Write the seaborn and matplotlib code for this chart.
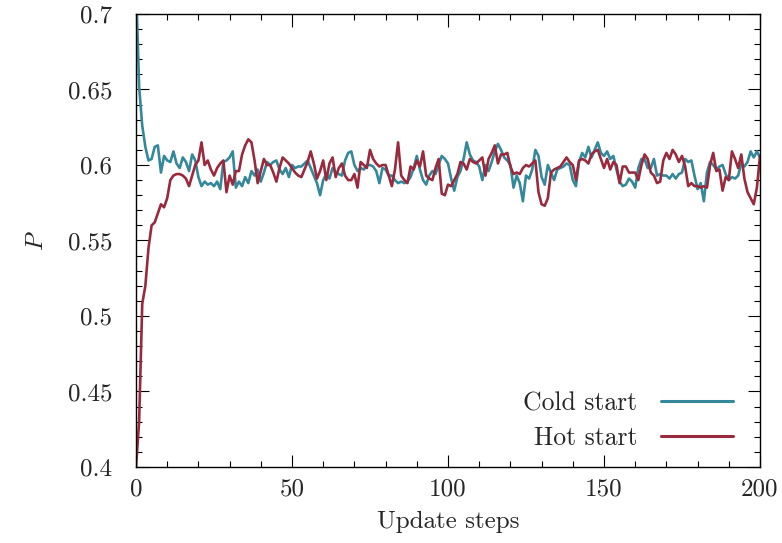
import numpy as np
import pandas as pd
import matplotlib
matplotlib.use("Agg")
import matplotlib.pyplot as plt
import seaborn as sns
from matplotlib.ticker import MultipleLocator

# ---------------- data ----------------
steps = list(range(0, 201))

cold_start = [
    0.720, 0.652, 0.626, 0.612, 0.603, 0.604, 0.612, 0.613, 0.595, 0.606,
    0.603, 0.602, 0.609, 0.601, 0.598, 0.605, 0.602, 0.596, 0.607, 0.603,
    0.592, 0.586, 0.589, 0.587, 0.588, 0.586, 0.589, 0.584, 0.602, 0.603,
    0.605, 0.609, 0.585, 0.589, 0.586, 0.592, 0.588, 0.596, 0.593, 0.597,
    0.589, 0.595, 0.602, 0.600, 0.602, 0.603, 0.597, 0.594, 0.598, 0.592,
    0.600, 0.598, 0.599, 0.599, 0.601, 0.603, 0.598, 0.593, 0.588, 0.580,
    0.590, 0.594, 0.591, 0.598, 0.595, 0.594, 0.593, 0.603, 0.608, 0.609,
    0.600, 0.596, 0.598, 0.597, 0.600, 0.600, 0.599, 0.596, 0.588, 0.598,
    0.597, 0.593, 0.593, 0.590, 0.588, 0.589, 0.588, 0.589, 0.592, 0.598,
    0.606, 0.597, 0.590, 0.587, 0.593, 0.596, 0.594, 0.600, 0.606, 0.604,
    0.601, 0.591, 0.583, 0.592, 0.596, 0.604, 0.615, 0.607, 0.603, 0.602,
    0.599, 0.590, 0.600, 0.596, 0.602, 0.609, 0.614, 0.610, 0.605, 0.603,
    0.600, 0.585, 0.593, 0.588, 0.576, 0.593, 0.591, 0.597, 0.610, 0.606,
    0.592, 0.587, 0.600, 0.595, 0.590, 0.597, 0.598, 0.599, 0.601, 0.600,
    0.590, 0.586, 0.602, 0.608, 0.605, 0.612, 0.605, 0.610, 0.615, 0.608,
    0.606, 0.609, 0.604, 0.606, 0.597, 0.589, 0.586, 0.587, 0.591, 0.589,
    0.585, 0.598, 0.604, 0.604, 0.598, 0.598, 0.604, 0.593, 0.594, 0.593,
    0.593, 0.591, 0.594, 0.591, 0.594, 0.595, 0.604, 0.602, 0.603, 0.593,
    0.584, 0.588, 0.576, 0.595, 0.602, 0.600, 0.597, 0.599, 0.600, 0.594,
    0.590, 0.592, 0.591, 0.593, 0.601, 0.599, 0.602, 0.609, 0.605, 0.609,
    0.605,
]

hot_start = [
    0.400, 0.430, 0.508, 0.520, 0.545, 0.560, 0.562, 0.568, 0.574, 0.572,
    0.578, 0.590, 0.593, 0.594, 0.594, 0.593, 0.591, 0.586, 0.593, 0.600,
    0.603, 0.615, 0.600, 0.603, 0.597, 0.593, 0.598, 0.601, 0.603, 0.582,
    0.593, 0.587, 0.596, 0.596, 0.607, 0.613, 0.617, 0.615, 0.603, 0.588,
    0.596, 0.604, 0.600, 0.600, 0.595, 0.589, 0.598, 0.605, 0.603, 0.601,
    0.598, 0.595, 0.593, 0.592, 0.597, 0.602, 0.609, 0.601, 0.591, 0.596,
    0.603, 0.590, 0.601, 0.605, 0.592, 0.598, 0.601, 0.593, 0.590, 0.590,
    0.594, 0.585, 0.602, 0.600, 0.598, 0.610, 0.604, 0.601, 0.599, 0.600,
    0.600, 0.593, 0.586, 0.597, 0.615, 0.593, 0.590, 0.588, 0.599, 0.597,
    0.603, 0.599, 0.609, 0.593, 0.591, 0.590, 0.598, 0.604, 0.581, 0.580,
    0.587, 0.586, 0.590, 0.594, 0.602, 0.601, 0.597, 0.604, 0.602, 0.601,
    0.603, 0.605, 0.593, 0.604, 0.608, 0.613, 0.601, 0.607, 0.607, 0.608,
    0.599, 0.594, 0.595, 0.594, 0.598, 0.600, 0.599, 0.601, 0.603, 0.582,
    0.574, 0.573, 0.578, 0.595, 0.597, 0.598, 0.599, 0.602, 0.605, 0.602,
    0.600, 0.590, 0.603, 0.604, 0.603, 0.601, 0.607, 0.609, 0.610, 0.604,
    0.598, 0.604, 0.597, 0.602, 0.600, 0.588, 0.599, 0.599, 0.595, 0.595,
    0.595, 0.590, 0.600, 0.607, 0.604, 0.595, 0.593, 0.588, 0.589, 0.603,
    0.608, 0.604, 0.610, 0.607, 0.602, 0.606, 0.599, 0.586, 0.588, 0.586,
    0.586, 0.585, 0.586, 0.585, 0.600, 0.608, 0.596, 0.597, 0.583, 0.592,
    0.590, 0.609, 0.604, 0.598, 0.607, 0.591, 0.582, 0.578, 0.574, 0.585,
    0.606,
]

series_names = ["Cold start", "Hot start"]
series_colors = ["#34889a", "#992a3e"]

# ---------------- style ----------------
sns.set_theme(style="ticks")
plt.rcParams["font.family"] = ["cmr10", "DejaVu Serif"]
plt.rcParams["mathtext.fontset"] = "cm"
plt.rcParams["axes.formatter.use_mathtext"] = True
plt.rcParams["axes.unicode_minus"] = False

FS = 18

df = pd.DataFrame({
    "step": steps * 2,
    "P": cold_start + hot_start,
    "run": [series_names[0]] * len(steps) + [series_names[1]] * len(steps),
})

fig = plt.figure(figsize=(7.82, 5.43), dpi=100)
ax = fig.add_axes([136 / 782, 76 / 543, 624 / 782, 453 / 543])

sns.lineplot(data=df, x="step", y="P", hue="run", hue_order=series_names,
             palette=series_colors, linewidth=1.9, ax=ax, legend=True)

ax.set_xlim(0, 200)
ax.set_ylim(0.4, 0.7)
ax.xaxis.set_major_locator(MultipleLocator(50))
ax.xaxis.set_minor_locator(MultipleLocator(10))
ax.yaxis.set_major_locator(MultipleLocator(0.05))
ax.yaxis.set_minor_locator(MultipleLocator(0.01))
ax.set_yticks([0.4, 0.45, 0.5, 0.55, 0.6, 0.65, 0.7])
ax.set_yticklabels(["0.4", "0.45", "0.5", "0.55", "0.6", "0.65", "0.7"])
ax.set_xticks([0, 50, 100, 150, 200])
ax.set_xticklabels(["0", "50", "100", "150", "200"])

ax.tick_params(which="both", direction="in", top=True, right=True,
               color="black", width=0.8)
ax.tick_params(which="major", length=9)
ax.tick_params(which="minor", length=4.5)
ax.tick_params(axis="y", which="major", labelsize=FS, pad=17)
ax.tick_params(axis="x", which="major", labelsize=FS, pad=8)

for s in ax.spines.values():
    s.set_linewidth(1.0)
    s.set_color("black")

ax.set_xlabel("Update steps", fontsize=FS, labelpad=8)
ax.set_ylabel("$P$", fontsize=FS, labelpad=14)

handles, labels = ax.get_legend_handles_labels()
leg = ax.legend(handles, labels, loc="lower right", frameon=False,
                markerfirst=False, fontsize=18.5, handlelength=2.8,
                handletextpad=0.9, labelspacing=0.42,
                bbox_to_anchor=(0.993, -0.013))
for line in leg.get_lines():
    line.set_linewidth(2.2)

fig.savefig("out.png", dpi=100)
